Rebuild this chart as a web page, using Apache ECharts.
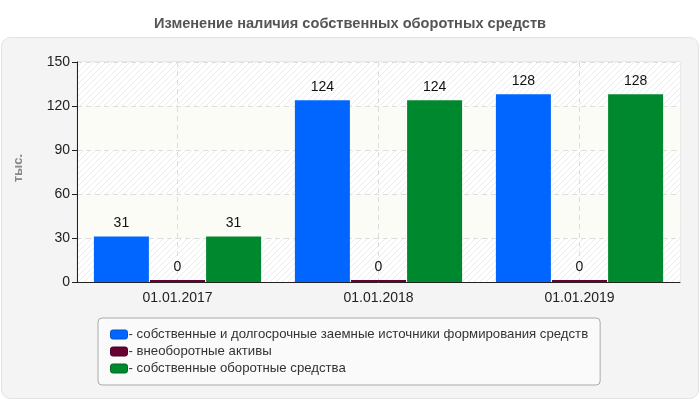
<!DOCTYPE html>
<html>
<head>
<meta charset="UTF-8">
<title>Изменение наличия собственных оборотных средств</title>
<script src="https://cdn.jsdelivr.net/npm/echarts@6/dist/echarts.min.js"></script>
<style>
  body { margin:0px; background:#fff; }
  #chart { width:700px; height:400px; }
</style>
</head>
<body>
<div id="chart"></div>
<script>
// данные графика
var categories = ['01.01.2017', '01.01.2018', '01.01.2019'];
var seriesNames = [
  'собственные и долгосрочные заемные источники формирования средств',
  'внеоборотные активы',
  'собственные оборотные средства'
];
var ownAndLongTerm = [31, 124, 128];
var nonCurrentAssets = [0, 0, 0];
var ownWorkingCapital = [31, 124, 128];
var yTicks = [0, 30, 60, 90, 120, 150];

var seriesColors = ['#0066ff', '#660033', '#00882e'];
var seriesBorders = ['#0052cc', '#4a0025', '#006622'];

// штриховка фона
function makeHatch() {
  var c = document.createElement('canvas');
  c.width = 6; c.height = 6;
  var ctx = c.getContext('2d');
  ctx.fillStyle = '#ffffff';
  ctx.fillRect(0, 0, 6, 6);
  ctx.strokeStyle = '#ebebeb';
  ctx.lineWidth = 1;
  ctx.beginPath();
  ctx.moveTo(0, 6); ctx.lineTo(6, 0);
  ctx.moveTo(-3, 3); ctx.lineTo(3, -3);
  ctx.moveTo(3, 9); ctx.lineTo(9, 3);
  ctx.stroke();
  return c;
}
var hatch = { image: makeHatch(), repeat: 'repeat' };

var myChart = echarts.init(document.getElementById('chart'), null, { renderer: 'canvas' });

function barSeries(idx, data) {
  return {
    name: seriesNames[idx],
    type: 'bar',
    data: data,
    barWidth: 55,
    barGap: '2%',
    barMinHeight: 2,
    itemStyle: { color: seriesColors[idx] },
    label: {
      show: true,
      position: 'top',
      distance: 6,
      color: '#111',
      fontSize: 14,
      fontFamily: 'Liberation Sans, Arial'
    }
  };
}

var option = {
  animation: false,
  textStyle: { fontFamily: 'Liberation Sans, Arial' },
  title: {
    text: 'Изменение наличия собственных оборотных средств',
    left: 'center',
    top: 11,
    textStyle: { fontSize: 14.6, fontWeight: 'bold', color: '#555', fontFamily: 'Liberation Sans, Arial' }
  },
  graphic: [{
    type: 'rect',
    z: -10,
    silent: true,
    shape: { x: 1.5, y: 37.5, width: 697, height: 361, r: 9 },
    style: { fill: '#f4f4f4', stroke: '#e2e2e2', lineWidth: 1 }
  }, {
    type: 'text',
    left: 12,
    top: 154,
    rotation: Math.PI / 2,
    style: { text: 'тыс.', fill: '#888', font: 'bold 13px Liberation Sans, Arial' }
  }],
  grid: {
    left: 77, right: 20, top: 62, bottom: 118,
    show: true,
    backgroundColor: '#ffffff',
    borderColor: '#dddddd',
    borderWidth: 1
  },
  legend: {
    orient: 'vertical',
    left: 98,
    top: 318,
    padding: [10, 12, 10, 12],
    itemGap: 4,
    itemWidth: 17,
    itemHeight: 9,
    icon: 'roundRect',
    backgroundColor: '#fafafa',
    borderColor: '#aaaaaa',
    borderWidth: 1,
    borderRadius: 4,
    formatter: function (name) { return '- ' + name; },
    itemStyle: { borderWidth: 1 },
    textStyle: { fontSize: 13.2, color: '#333', padding: [0, 0, 0, -4], fontFamily: 'Liberation Sans, Arial' },
    data: seriesNames.map(function (n, i) {
      return { name: n, itemStyle: { borderColor: seriesBorders[i] } };
    })
  },
  xAxis: {
    type: 'category',
    data: categories,
    axisLine: { lineStyle: { color: '#222', width: 1 } },
    axisTick: { alignWithLabel: true, length: 5, lineStyle: { color: '#222' } },
    axisLabel: { color: '#222', fontSize: 14, margin: 9 },
    splitLine: { show: true, alignWithLabel: true, lineStyle: { color: '#dddddd', type: [5, 4] } }
  },
  yAxis: {
    type: 'value',
    min: yTicks[0],
    max: yTicks[yTicks.length - 1],
    interval: yTicks[1] - yTicks[0],
    axisLine: { show: true, lineStyle: { color: '#222', width: 1 } },
    axisTick: { show: true, length: 5, lineStyle: { color: '#222' } },
    axisLabel: { color: '#222', fontSize: 14, margin: 7 },
    splitLine: { show: true, lineStyle: { color: '#dddddd', type: [5, 4] } },
    splitArea: { show: true, areaStyle: { color: [hatch, '#fcfcf6'] } }
  },
  series: [
    barSeries(0, ownAndLongTerm),
    barSeries(1, nonCurrentAssets),
    barSeries(2, ownWorkingCapital)
  ]
};
myChart.setOption(option);
</script>
</body>
</html>
